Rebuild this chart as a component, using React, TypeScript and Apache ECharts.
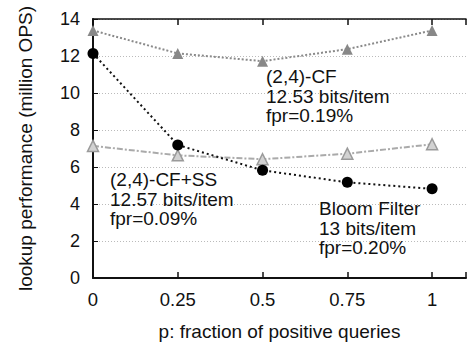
import React, { useEffect, useRef } from "react";
import * as echarts from "echarts";

const xValues = [0, 0.25, 0.5, 0.75, 1];
const cfValues = [13.38, 12.14, 11.72, 12.37, 13.38];
const cfssValues = [7.14, 6.63, 6.42, 6.72, 7.23];
const bloomValues = [12.14, 7.19, 5.82, 5.17, 4.82];
const xTickLabels: Record<string, string> = { "0": "0", "0.25": "0.25", "0.5": "0.5", "0.75": "0.75", "1": "1" };
const cfLabel = ["(2,4)-CF", "12.53 bits/item", "fpr=0.19%"];
const cfssLabel = ["(2,4)-CF+SS", "12.57 bits/item", "fpr=0.09%"];
const bloomLabel = ["Bloom Filter", "13 bits/item", "fpr=0.20%"];

const FONT = "Liberation Sans, Arial, Helvetica, sans-serif";

export default function App() {
  const ref = useRef<HTMLDivElement>(null);
  useEffect(() => {
    document.body.style.margin = "0";
    const chart = echarts.init(ref.current!, null, { renderer: "svg" });
    const toPairs = (vals: number[]) => xValues.map((x, i) => [x, vals[i]]);
    const textEl = (lines: string[], x: number, y: number) => ({
      type: "text",
      left: x,
      top: y,
      style: {
        text: lines.join("\n"),
        font: `19px ${FONT}`,
        fill: "#111",
        lineHeight: 19.5,
      },
      z: 100,
    });
    chart.setOption({
      animation: false,
      backgroundColor: "#fff",
      grid: { left: 93, top: 19, height: 266, width: 381 },
      xAxis: [
        {
          type: "value",
          min: 0,
          max: 1.1,
          interval: 0.25,
          position: "bottom",
          axisLine: { lineStyle: { color: "#111", width: 2 } },
          axisTick: { inside: true, length: 6, lineStyle: { color: "#111", width: 1.5 } },
          axisLabel: {
            margin: 12,
            fontSize: 18.5,
            fontFamily: FONT,
            color: "#111",
            formatter: (v: number) => xTickLabels[String(v)] ?? "",
          },
          splitLine: { show: false },
          name: "p: fraction of positive queries",
          nameLocation: "middle",
          nameGap: 44,
          nameTextStyle: { fontSize: 19, fontFamily: FONT, color: "#111" },
        },
        {
          type: "value",
          min: 0,
          max: 1.1,
          interval: 0.25,
          position: "top",
          axisLine: { lineStyle: { color: "#111", width: 1.5 } },
          axisTick: { inside: true, length: 6, lineStyle: { color: "#111", width: 1.5 } },
          axisLabel: { show: false },
          splitLine: { show: false },
        },
      ],
      yAxis: {
        type: "value",
        min: 0,
        max: 14,
        interval: 2,
        axisLine: { show: true, lineStyle: { color: "#111", width: 2 } },
        axisTick: { show: true, inside: true, length: 5, lineStyle: { color: "#111" } },
        axisLabel: { margin: 13, fontSize: 18, fontFamily: FONT, color: "#111" },
        splitLine: { show: true, lineStyle: { color: "#bbb", type: [1, 2], width: 1 } },
        name: "lookup performance (million OPS)",
        nameLocation: "middle",
        nameGap: 58,
        nameTextStyle: { fontSize: 19, fontFamily: FONT, color: "#111" },
      },
      series: [
        {
          type: "line",
          name: "CF",
          data: toPairs(cfValues),
          symbol: "triangle",
          symbolSize: 11,
          itemStyle: { color: "#888" },
          lineStyle: { color: "#8a8a8a", width: 2, type: [2, 2] },
          z: 3,
        },
        {
          type: "line",
          name: "CF+SS",
          data: toPairs(cfssValues),
          symbol: "triangle",
          symbolSize: 11,
          itemStyle: { color: "#d2d2d2", borderColor: "#9a9a9a", borderWidth: 1.5 },
          lineStyle: { color: "#aaa", width: 2, type: [6, 2, 2, 2] },
          z: 3,
        },
        {
          type: "line",
          name: "Bloom",
          data: toPairs(bloomValues),
          symbol: "circle",
          symbolSize: 11,
          itemStyle: { color: "#000" },
          lineStyle: { color: "#111", width: 2, type: [2, 3] },
          z: 4,
        },
      ],
      graphic: [
        textEl(cfLabel, 266, 67),
        textEl(cfssLabel, 110, 170),
        textEl(bloomLabel, 319, 199),
      ],
    });
    return () => chart.dispose();
  }, []);
  return <div ref={ref} style={{ width: 469, height: 346 }} />;
}
